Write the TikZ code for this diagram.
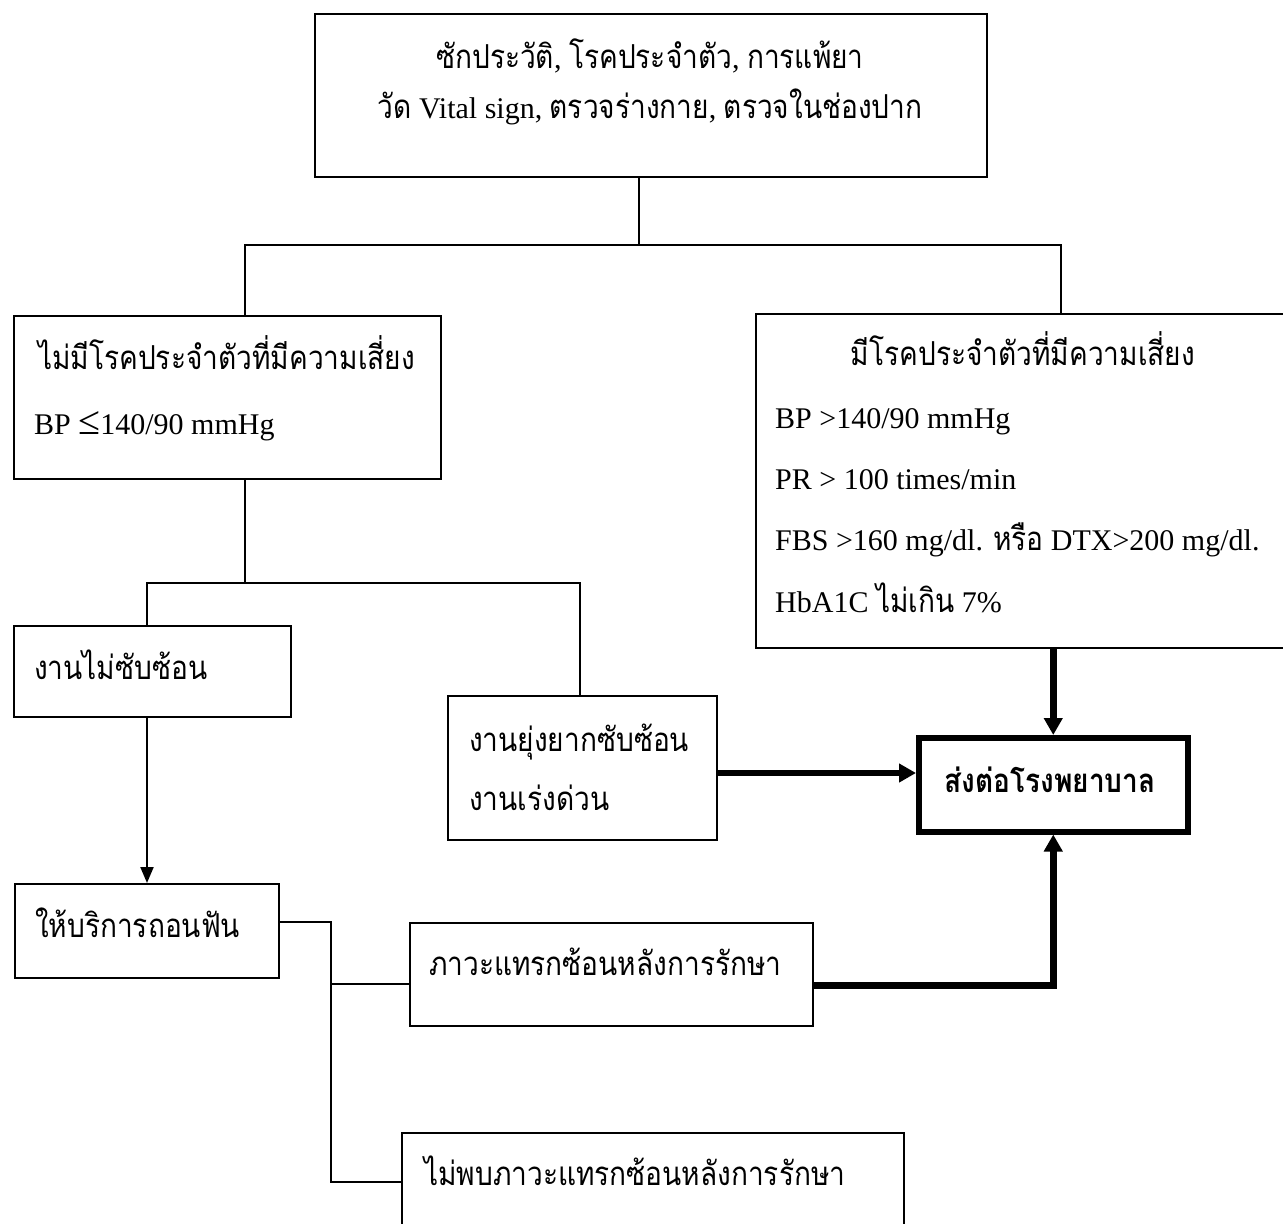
\documentclass[tikz,border=0pt]{standalone}
\usepackage{fontspec}
\setmainfont{Liberation Serif}
\newfontfamily\thaifont[Script=Thai,FakeStretch=0.85,Scale=1.1]{Loma}
\newcommand{\thtxt}[1]{{\thaifont #1}}
\usetikzlibrary{arrows.meta}
\begin{document}
\begin{tikzpicture}[x=1pt,y=-1pt,
  box/.style={draw, line width=2pt, inner sep=0pt, anchor=north west},
  lbl/.style={inner sep=0pt, font=\fontsize{30}{36}\selectfont},
  thinline/.style={line width=2pt},
  thinarrow/.style={line width=2pt, -{Triangle[width=13pt,length=16pt]}},
  heavy/.style={line width=6.5pt, line join=miter},
  heavyarrow/.style={heavy, -{Triangle[width=18pt,length=17pt]}},
]
\fill[white] (0,0) rectangle (1283,1224);
\useasboundingbox (0,0) rectangle (1283,1224);
\clip (0,0) rectangle (1283,1224);

% boxes
\node[box, minimum width=672pt, minimum height=163pt] (top) at (314,13) {};
\node[box, minimum width=427pt, minimum height=163pt] (norisk) at (13,315) {};
\node[box, minimum width=540pt, minimum height=334pt] (risk) at (755,313) {};
\node[box, minimum width=277pt, minimum height=91pt] (simple) at (13,625) {};
\node[box, minimum width=269pt, minimum height=144pt] (complex) at (447,695) {};
\node[box, line width=5.5pt, minimum width=269pt, minimum height=94pt] (hosp) at (916,735) {};
\node[box, minimum width=264pt, minimum height=94pt] (extract) at (14,883) {};
\node[box, minimum width=403pt, minimum height=103pt] (comp) at (409,922) {};
\node[box, minimum width=502pt, minimum height=110pt] (nocomp) at (401,1132) {};

% texts
\node[lbl, anchor=base] (top1) at (650,68) {\thtxt{ซักประวัติ}, \thtxt{โรคประจำตัว}, \thtxt{การแพ้ยา}};
\node[lbl, anchor=base] (top2) at (650,118) {\thtxt{วัด} Vital sign, \thtxt{ตรวจร่างกาย}, \thtxt{ตรวจในช่องปาก}};
\node[lbl, anchor=base west] (nr1) at (38,369) {\thtxt{ไม่มีโรคประจำตัวที่มีความเสี่ยง}};
\node[lbl, anchor=base west] (nr2) at (34,434) {BP {\fontsize{40}{40}\selectfont ≤}140/90 mmHg};
\node[lbl, anchor=base] (rk0) at (1023,365) {\thtxt{มีโรคประจำตัวที่มีความเสี่ยง}};
\node[lbl, anchor=base west] (rk1) at (775,428) {BP >140/90 mmHg};
\node[lbl, anchor=base west] (rk2) at (775,489) {PR > 100 times/min};
\node[lbl, anchor=base west] (rk3) at (775,550) {FBS >160 mg/dl. \thtxt{หรือ} DTX>200 mg/dl.};
\node[lbl, anchor=base west] (rk4) at (775,612) {HbA1C \thtxt{ไม่เกิน} 7\%};
\node[lbl, anchor=base west] (sm) at (34,679) {\thtxt{งานไม่ซับซ้อน}};
\node[lbl, anchor=base west] (cx1) at (469,751) {\thtxt{งานยุ่งยากซับซ้อน}};
\node[lbl, anchor=base west] (cx2) at (469,810) {\thtxt{งานเร่งด่วน}};
\node[lbl, anchor=base] (hs) at (1050,792) {\thaifont\bfseries ส่งต่อโรงพยาบาล};
\node[lbl, anchor=base west] (ex) at (35,937) {\thtxt{ให้บริการถอนฟัน}};
\node[lbl, anchor=base west] (cp) at (429,975) {\thtxt{ภาวะแทรกซ้อนหลังการรักษา}};
\node[lbl, anchor=base west] (nc) at (424,1185) {\thtxt{ไม่พบภาวะแทรกซ้อนหลังการรักษา}};

% junction points
\coordinate (j1) at (639,245);
\coordinate (j1l) at (245,245);
\coordinate (j1r) at (1061,245);
\coordinate (j2) at (245,583);
\coordinate (j2l) at (147,583);
\coordinate (j2r) at (580,583);
\coordinate (e1) at (331,922);
\coordinate (e2) at (331,1182);
\coordinate (e3) at (331,984);

% thin connectors
\draw[thinline] (top.south -| j1) -- (j1);
\draw[thinline] (norisk.north -| j1l) -- (j1l) -- (j1r) -- (risk.north -| j1r);
\draw[thinline] (norisk.south -| j2) -- (j2);
\draw[thinline] (simple.north -| j2l) -- (j2l) -- (j2r) -- (complex.north -| j2r);
\draw[thinarrow] (simple.south -| j2l) -- (extract.north -| j2l);
\draw[thinline] (extract.east |- e1) -- (e1) -- (e2) -- (e2 -| nocomp.west);
\draw[thinline] (e3) -- (e3 -| comp.west);

% heavy connectors into the referral box
\draw[heavyarrow] (risk.south -| hosp.north) -- (hosp.north);
\draw[heavyarrow] ([yshift=-5pt]complex.east) -- ([yshift=-5pt]complex.east -| hosp.west);
\draw[heavyarrow] ([yshift=-11pt]comp.east) -| (hosp.south);
\end{tikzpicture}
\end{document}
